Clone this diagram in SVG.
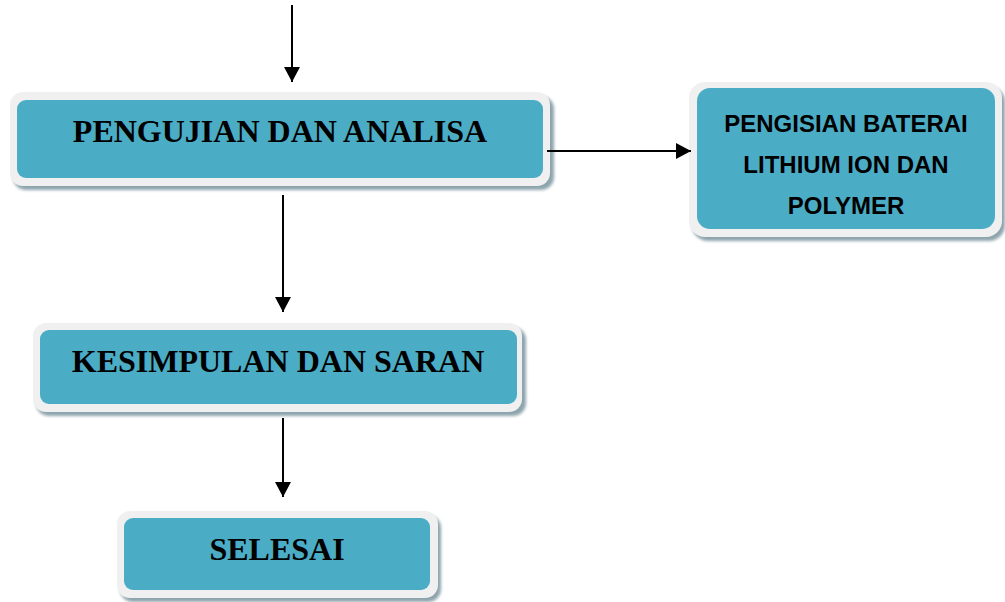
<svg xmlns="http://www.w3.org/2000/svg" width="1005" height="602" viewBox="0 0 1005 602">
<style>
.sh{fill:#8ea4ad;filter:url(#blur)}
.outer{fill:#f0f0f0}
.inner{fill:#4bacc6}
.tt{font-family:"Liberation Serif","Times New Roman",serif;font-weight:bold;font-size:32px;fill:#000;text-anchor:middle}
.ts{font-family:"Liberation Sans",Arial,sans-serif;font-weight:bold;font-size:24px;fill:#000;text-anchor:middle}
.ln{stroke:#000;stroke-width:2;fill:none}
</style>
<defs>
<filter id="blur" x="-5%" y="-10%" width="110%" height="120%"><feGaussianBlur stdDeviation="1.5"/></filter>
<marker id="ah" markerWidth="16" markerHeight="16" viewBox="0 0 16 16" refX="15" refY="8" orient="auto" markerUnits="userSpaceOnUse"><path d="M0,0 L15,8 L0,16 Z" fill="#000"/></marker>
</defs>
<rect width="1005" height="602" fill="#fff"/>
<g id="node-pengujian">
<rect class="sh" x="13" y="96" width="541" height="94" rx="13"/>
<rect class="outer" x="10" y="92" width="540" height="94" rx="13"/>
<rect class="inner" x="17" y="100" width="526" height="78" rx="9"/>
<text class="tt" x="280" y="142">PENGUJIAN DAN ANALISA</text>
</g>
<g id="node-pengisian">
<rect class="sh" x="692" y="86" width="313" height="155" rx="16"/>
<rect class="outer" x="689" y="82" width="313" height="155" rx="16"/>
<rect class="inner" x="697" y="88" width="298" height="141" rx="13"/>
<text class="ts" x="846" y="132">PENGISIAN BATERAI</text>
<text class="ts" x="846" y="173">LITHIUM ION DAN</text>
<text class="ts" x="846" y="214">POLYMER</text>
</g>
<g id="node-kesimpulan">
<rect class="sh" x="36" y="327" width="490" height="89" rx="13"/>
<rect class="outer" x="33" y="323" width="489" height="89" rx="13"/>
<rect class="inner" x="40" y="330" width="477" height="74" rx="9"/>
<text class="tt" x="278" y="372">KESIMPULAN DAN SARAN</text>
</g>
<g id="node-selesai">
<rect class="sh" x="120" y="515" width="321" height="87" rx="13"/>
<rect class="outer" x="117" y="511" width="321" height="87" rx="13"/>
<rect class="inner" x="124" y="518" width="306" height="72" rx="9"/>
<text class="tt" x="277" y="560">SELESAI</text>
</g>
<g id="connectors">
<line class="ln" x1="292" y1="5" x2="292" y2="82" marker-end="url(#ah)"/>
<line class="ln" x1="547" y1="151" x2="691" y2="151" marker-end="url(#ah)"/>
<line class="ln" x1="283" y1="195" x2="283" y2="312" marker-end="url(#ah)"/>
<line class="ln" x1="283" y1="418" x2="283" y2="497" marker-end="url(#ah)"/>
</g>
</svg>
